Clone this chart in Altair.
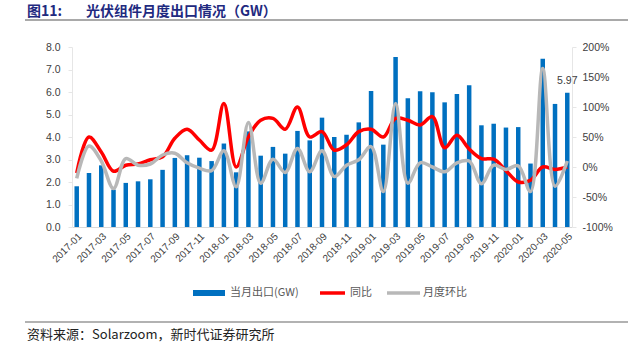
import altair as alt
import pandas as pd

months = [
    "2017-01", "2017-02", "2017-03", "2017-04", "2017-05", "2017-06", "2017-07", "2017-08",
    "2017-09", "2017-10", "2017-11", "2017-12",
    "2018-01", "2018-02", "2018-03", "2018-04", "2018-05", "2018-06", "2018-07", "2018-08",
    "2018-09", "2018-10", "2018-11", "2018-12",
    "2019-01", "2019-02", "2019-03", "2019-04", "2019-05", "2019-06", "2019-07", "2019-08",
    "2019-09", "2019-10", "2019-11", "2019-12",
    "2020-01", "2020-02", "2020-03", "2020-04", "2020-05",
]
exports_gw = [
    1.81, 2.40, 2.74, 1.66, 1.96, 2.03, 2.12, 2.54, 3.07, 3.19, 3.08, 2.93,
    3.71, 2.43, 4.25, 3.17, 3.56, 3.26, 4.27, 3.85, 4.86, 4.00, 4.10, 4.65,
    6.04, 3.66, 7.56, 5.72, 6.03, 5.99, 5.54, 5.91, 6.30, 4.52, 4.59, 4.42,
    4.44, 2.82, 7.48, 5.47, 5.97,
]
yoy_pct = [
    -10, 50, 25, -7, 3, 5, 12, 17, 48, 63, 45, 28,
    106, 0, 50, 78, 81, 63, 100, 50, 59, 28, 37, 59,
    63, 50, 81, 78, 70, 84, 32, 53, 30, 14, 13, -6,
    -25, -22, 0, -4, 0,
]
mom_pct = [
    -19, 35, 10, -36, 14, 3, 5, 20, 23, 7, -2, -6,
    27, -33, 74, -27, 13, -9, 31, -8, 27, -16, 3, 12,
    34, -41, 106, -27, 7, 0, -8, 7, 10, -28, 3, -4,
    2, -41, 164, -32, 10,
]
axis_months = months[::2]
left_ticks = [0, 1, 2, 3, 4, 5, 6, 7, 8]
right_ticks = [-100, -50, 0, 50, 100, 150, 200]

df = pd.DataFrame({"month": months, "exports": exports_gw, "yoy": yoy_pct, "mom": mom_pct})
last = df.tail(1)

FONT = "Liberation Sans"
CJK = "Noto Sans CJK SC"
BLUE = "#0070C0"
RED = "#FF0000"
GRAY = "#B8B8B8"

x_enc = alt.X(
    "month:N", sort=months, title=None,
    scale=alt.Scale(paddingInner=0.63, paddingOuter=0.2),
    axis=alt.Axis(values=axis_months, labelAngle=-45, labelFontSize=10, labelFont=FONT,
                  labelColor="#404040", ticks=False, domainColor="#D9D9D9", labelPadding=4),
)

left_axis = alt.Axis(values=left_ticks, format=".1f", grid=False, labelFontSize=10.5,
                     labelFont=FONT, labelColor="#404040", domainColor="#E6E6E6",
                     tickColor="#E6E6E6", tickSize=4, labelPadding=8, labelOverlap=False)
left_scale = alt.Scale(domain=[0, 8], nice=False)

bars = alt.Chart(df).mark_bar(color=BLUE, size=4.5).encode(
    x=x_enc,
    y=alt.Y("exports:Q", title=None, scale=left_scale, axis=left_axis),
)

label = alt.Chart(last).mark_text(font=FONT, fontSize=10.5, color="#404040",
                                  baseline="bottom", dy=-7).encode(
    x=alt.X("month:N", sort=months),
    y=alt.Y("exports:Q", title=None, scale=left_scale, axis=left_axis),
    text=alt.Text("exports:Q", format=".2f"),
)

left_layer = alt.layer(bars, label)

right_axis = alt.Axis(orient="right", values=right_ticks, labelExpr="datum.value + '%'",
                      grid=False, labelFontSize=10.5, labelFont=FONT, labelColor="#404040",
                      domainColor="#E6E6E6", tickColor="#E6E6E6", tickSize=4,
                      labelPadding=6, labelOverlap=False)
right_scale = alt.Scale(domain=[-100, 200], nice=False)

red = alt.Chart(df).mark_line(color=RED, strokeWidth=3.5, interpolate="catmull-rom").encode(
    x=alt.X("month:N", sort=months),
    y=alt.Y("yoy:Q", title=None, scale=right_scale, axis=right_axis),
)
gray = alt.Chart(df).mark_line(color=GRAY, strokeWidth=3.5, interpolate="catmull-rom").encode(
    x=alt.X("month:N", sort=months),
    y=alt.Y("mom:Q", title=None, scale=right_scale, axis=right_axis),
)
right_layer = alt.layer(red, gray)

# decorations (title, rules, legend, source)
one = pd.DataFrame({"k": [0]})
base = alt.Chart(one)

title_a = base.mark_text(text="图11:", font=CJK, fontSize=14, fontWeight="bold",
                         color="#1F2A80", align="left", baseline="middle").encode(
    x=alt.value(-45), y=alt.value(-35.5))
title_b = base.mark_text(text="光伏组件月度出口情况（GW）", font=CJK, fontSize=14,
                         fontWeight="bold", color="#1F2A80", align="left",
                         baseline="middle").encode(x=alt.value(14), y=alt.value(-35.5))
top_rule = base.mark_rule(color="#555555", strokeWidth=1.2).encode(
    x=alt.value(-47), x2=alt.value(556), y=alt.value(-27))
bottom_rule = base.mark_rule(color="#999999", strokeWidth=1.5).encode(
    x=alt.value(-47), x2=alt.value(556), y=alt.value(275))
source = base.mark_text(text="资料来源：Solarzoom，新时代证券研究所", font=CJK, fontSize=13,
                        color="#222222", align="left", baseline="middle").encode(
    x=alt.value(-45), y=alt.value(288))

leg_y = 246
leg_blue = base.mark_rule(color=BLUE, strokeWidth=6).encode(
    x=alt.value(121), x2=alt.value(153), y=alt.value(leg_y))
leg_blue_t = base.mark_text(text="当月出口(GW)", font=CJK, fontSize=11, color="#595959",
                            align="left", baseline="middle").encode(
    x=alt.value(158), y=alt.value(leg_y))
leg_red = base.mark_rule(color=RED, strokeWidth=3.5).encode(
    x=alt.value(248), x2=alt.value(273), y=alt.value(leg_y))
leg_red_t = base.mark_text(text="同比", font=CJK, fontSize=11, color="#595959",
                           align="left", baseline="middle").encode(
    x=alt.value(278), y=alt.value(leg_y))
leg_gray = base.mark_rule(color=GRAY, strokeWidth=3.5).encode(
    x=alt.value(315), x2=alt.value(348), y=alt.value(leg_y))
leg_gray_t = base.mark_text(text="月度环比", font=CJK, fontSize=11, color="#595959",
                            align="left", baseline="middle").encode(
    x=alt.value(351), y=alt.value(leg_y))

deco = alt.layer(title_a, title_b, top_rule, bottom_rule, source,
                 leg_blue, leg_blue_t, leg_red, leg_red_t, leg_gray, leg_gray_t)

chart = alt.layer(left_layer, right_layer, deco).resolve_scale(y="independent").properties(
    width=500, height=180,
    autosize=alt.AutoSizeParams(type="none"),
    padding={"left": 72, "top": 47, "right": 61, "bottom": 125},
    background="white",
).configure_view(stroke=None)

chart.save("out.html", embed_options={"renderer": "svg", "actions": False})
